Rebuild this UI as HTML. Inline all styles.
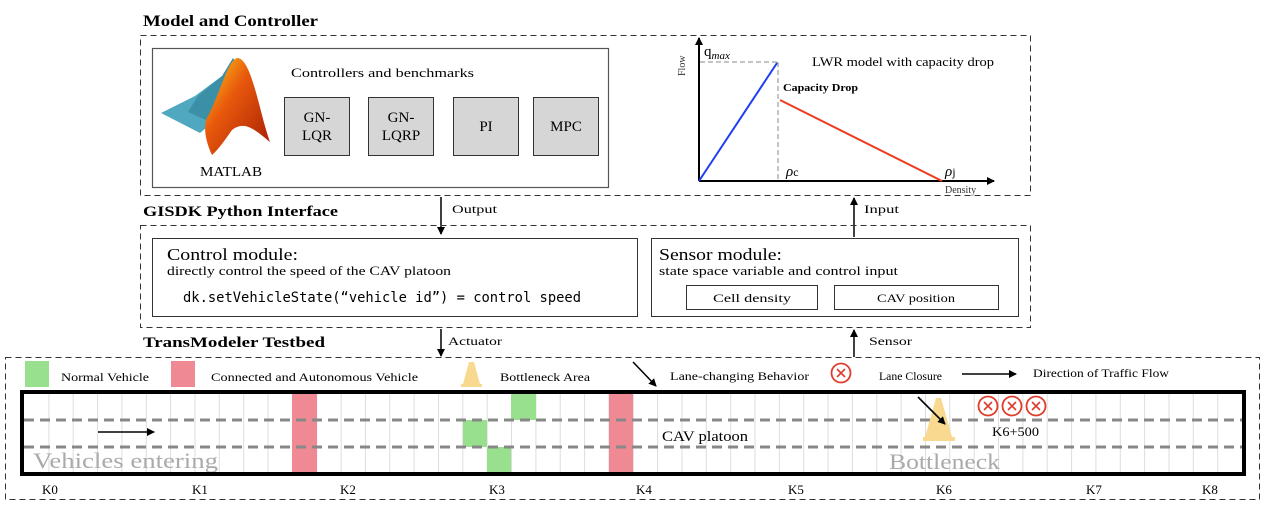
<!DOCTYPE html>
<html><head><meta charset="utf-8"><style>
html,body{margin:0;padding:0;background:#fff;}
svg{display:block;font-family:"Liberation Serif",serif;}
</style></head><body>
<svg width="1266" height="512" viewBox="0 0 1266 512" xmlns="http://www.w3.org/2000/svg">
<defs>
<marker id="ah" markerWidth="8" markerHeight="8" refX="7" refY="4" orient="auto" markerUnits="userSpaceOnUse"><path d="M0,0 L8,4 L0,8 z" fill="#000"/></marker>
<linearGradient id="mg" x1="0" y1="0" x2="1" y2="1"><stop offset="0" stop-color="#ffd21a"/><stop offset="0.4" stop-color="#e8590c"/><stop offset="1" stop-color="#a51c05"/></linearGradient>
</defs>

<text x="143" y="26" font-size="16" font-weight="bold" textLength="175" lengthAdjust="spacingAndGlyphs">Model and Controller</text>
<rect x="140.5" y="35.5" width="890" height="160" fill="none" stroke="#333" stroke-dasharray="6,4"/>
<rect x="152.5" y="48.5" width="456" height="139" fill="#fff" stroke="#555" stroke-width="1.2"/>
<polygon points="161,113 195,96 222,76 218,118 200,133" fill="#4fa8bf"/>
<polygon points="198,96 222,76 233,58 240,68 206,120 188,112" fill="#3b8fa6"/>
<path d="M206,120 C220,95 228,58 238,58 C252,60 260,115 270,142 C255,130 245,120 232,130 C225,140 218,150 212,155 C205,140 204,128 206,120 z" fill="url(#mg)"/>
<text x="200" y="176" font-size="14" textLength="62" lengthAdjust="spacingAndGlyphs">MATLAB</text>
<text x="291" y="77" font-size="13" textLength="183" lengthAdjust="spacingAndGlyphs">Controllers and benchmarks</text>
<g font-size="15" text-anchor="middle">
<rect x="284.5" y="97.5" width="65" height="58" fill="#d6d6d6" stroke="#333"/>
<text x="317" y="122">GN-</text><text x="317" y="140">LQR</text>
<rect x="368.5" y="97.5" width="65" height="58" fill="#d6d6d6" stroke="#333"/>
<text x="401" y="122">GN-</text><text x="401" y="140">LQRP</text>
<rect x="453.5" y="97.5" width="65" height="58" fill="#d6d6d6" stroke="#333"/>
<text x="486" y="131">PI</text>
<rect x="533.5" y="97.5" width="65" height="58" fill="#d6d6d6" stroke="#333"/>
<text x="566" y="131">MPC</text>
</g>
<line x1="699" y1="181" x2="699" y2="38" stroke="#000" stroke-width="2" marker-end="url(#ah)"/>
<line x1="699" y1="181" x2="994" y2="181" stroke="#000" stroke-width="2" marker-end="url(#ah)"/>
<line x1="700" y1="62" x2="778" y2="62" stroke="#888" stroke-dasharray="5,3"/>
<line x1="778" y1="62" x2="778" y2="181" stroke="#888" stroke-dasharray="5,3"/>
<line x1="699" y1="181" x2="777" y2="63" stroke="#1f3ff0" stroke-width="2"/>
<line x1="780" y1="100" x2="942" y2="181" stroke="#f03c1e" stroke-width="2"/>
<text transform="translate(685,76) rotate(-90)" font-size="10" fill="#333">Flow</text>
<text x="704" y="56" font-size="15">q<tspan font-size="11" font-style="italic" dy="3">max</tspan></text>
<text x="812" y="66" font-size="13" textLength="182" lengthAdjust="spacingAndGlyphs">LWR model with capacity drop</text>
<text x="783" y="91" font-size="10" font-weight="bold" textLength="75" lengthAdjust="spacingAndGlyphs">Capacity Drop</text>
<text x="786" y="176" font-size="15" font-style="italic">ρ<tspan font-size="12" font-style="normal">c</tspan></text>
<text x="945" y="176" font-size="15" font-style="italic">ρ<tspan font-size="12" font-style="normal">j</tspan></text>
<text x="945" y="193" font-size="10" fill="#333">Density</text>

<text x="143" y="216" font-size="15" font-weight="bold" textLength="195" lengthAdjust="spacingAndGlyphs">GISDK Python Interface</text>
<line x1="441" y1="197" x2="441" y2="234" stroke="#000" stroke-width="1.5" marker-end="url(#ah)"/>
<text x="452" y="213" font-size="12" textLength="45" lengthAdjust="spacingAndGlyphs">Output</text>
<line x1="854" y1="237" x2="854" y2="198" stroke="#000" stroke-width="1.5" marker-end="url(#ah)"/>
<text x="864" y="213" font-size="12" textLength="35" lengthAdjust="spacingAndGlyphs">Input</text>
<rect x="140.5" y="225.5" width="890" height="102" fill="none" stroke="#333" stroke-dasharray="6,4"/>
<rect x="152.5" y="238.5" width="485" height="78" fill="#fff" stroke="#333"/>
<text x="167" y="260" font-size="17" textLength="131" lengthAdjust="spacingAndGlyphs">Control module:</text>
<text x="167" y="275" font-size="13" textLength="284" lengthAdjust="spacingAndGlyphs">directly control the speed of the CAV platoon</text>
<text x="183" y="302" font-size="14" font-family="DejaVu Sans Mono,monospace" textLength="398" lengthAdjust="spacingAndGlyphs">dk.setVehicleState(“vehicle id”) = control speed</text>
<rect x="651.5" y="238.5" width="367" height="78" fill="#fff" stroke="#333"/>
<text x="659" y="260" font-size="17" textLength="123" lengthAdjust="spacingAndGlyphs">Sensor module:</text>
<text x="659" y="275" font-size="13" textLength="239" lengthAdjust="spacingAndGlyphs">state space variable and control input</text>
<rect x="686.5" y="285.5" width="131" height="24" fill="#fff" stroke="#333"/>
<text x="713" y="302" font-size="12" textLength="78" lengthAdjust="spacingAndGlyphs">Cell density</text>
<rect x="834.5" y="285.5" width="164" height="24" fill="#fff" stroke="#333"/>
<text x="877" y="302" font-size="12" textLength="78" lengthAdjust="spacingAndGlyphs">CAV position</text>

<text x="143" y="347" font-size="15" font-weight="bold" textLength="182" lengthAdjust="spacingAndGlyphs">TransModeler Testbed</text>
<line x1="441" y1="329" x2="441" y2="356" stroke="#000" stroke-width="1.5" marker-end="url(#ah)"/>
<text x="448" y="345" font-size="12" textLength="54" lengthAdjust="spacingAndGlyphs">Actuator</text>
<line x1="854" y1="357" x2="854" y2="330" stroke="#000" stroke-width="1.5" marker-end="url(#ah)"/>
<text x="869" y="345" font-size="12" textLength="43" lengthAdjust="spacingAndGlyphs">Sensor</text>
<rect x="5.5" y="357.5" width="1254" height="142" fill="none" stroke="#333" stroke-dasharray="6,4"/>

<rect x="25" y="361" width="24" height="26" fill="#98e08e"/>
<text x="61" y="381" font-size="12" textLength="88" lengthAdjust="spacingAndGlyphs">Normal Vehicle</text>
<rect x="171" y="361" width="24" height="26" fill="#ef8a94"/>
<text x="211" y="381" font-size="12" textLength="207" lengthAdjust="spacingAndGlyphs">Connected and Autonomous Vehicle</text>
<polygon points="469,362 474,362 480,384 463,384" fill="#f8d98f"/>
<rect x="461" y="384" width="21" height="3" fill="#f8d98f"/>
<text x="500" y="381" font-size="12" textLength="90" lengthAdjust="spacingAndGlyphs">Bottleneck Area</text>
<line x1="633" y1="362" x2="656" y2="386" stroke="#000" stroke-width="1.5" marker-end="url(#ah)"/>
<text x="670" y="380" font-size="12" textLength="139" lengthAdjust="spacingAndGlyphs">Lane-changing Behavior</text>
<circle cx="841" cy="373" r="9.5" fill="#fff" stroke="#e03c2c" stroke-width="1.8"/>
<path d="M837,369 L845,377 M845,369 L837,377" stroke="#e03c2c" stroke-width="1.6"/>
<text x="879" y="380" font-size="12" textLength="63" lengthAdjust="spacingAndGlyphs">Lane Closure</text>
<line x1="962" y1="374" x2="1016" y2="374" stroke="#000" stroke-width="1.5" marker-end="url(#ah)"/>
<text x="1033" y="377" font-size="12" textLength="136" lengthAdjust="spacingAndGlyphs">Direction of Traffic Flow</text>

<g stroke="#ddd" stroke-width="1">
<line x1="48.9" y1="393" x2="48.9" y2="473"/><line x1="73.2" y1="393" x2="73.2" y2="473"/><line x1="97.6" y1="393" x2="97.6" y2="473"/><line x1="121.9" y1="393" x2="121.9" y2="473"/><line x1="146.3" y1="393" x2="146.3" y2="473"/><line x1="170.6" y1="393" x2="170.6" y2="473"/><line x1="195" y1="393" x2="195" y2="473"/><line x1="219.3" y1="393" x2="219.3" y2="473"/><line x1="243.7" y1="393" x2="243.7" y2="473"/><line x1="268" y1="393" x2="268" y2="473"/><line x1="292.4" y1="393" x2="292.4" y2="473"/><line x1="316.7" y1="393" x2="316.7" y2="473"/><line x1="341.1" y1="393" x2="341.1" y2="473"/><line x1="365.4" y1="393" x2="365.4" y2="473"/><line x1="389.8" y1="393" x2="389.8" y2="473"/><line x1="414.1" y1="393" x2="414.1" y2="473"/><line x1="438.5" y1="393" x2="438.5" y2="473"/><line x1="462.8" y1="393" x2="462.8" y2="473"/><line x1="487.2" y1="393" x2="487.2" y2="473"/><line x1="511.5" y1="393" x2="511.5" y2="473"/><line x1="535.9" y1="393" x2="535.9" y2="473"/><line x1="560.2" y1="393" x2="560.2" y2="473"/><line x1="584.6" y1="393" x2="584.6" y2="473"/><line x1="608.9" y1="393" x2="608.9" y2="473"/><line x1="633.3" y1="393" x2="633.3" y2="473"/><line x1="657.6" y1="393" x2="657.6" y2="473"/><line x1="682" y1="393" x2="682" y2="473"/><line x1="706.3" y1="393" x2="706.3" y2="473"/><line x1="730.7" y1="393" x2="730.7" y2="473"/><line x1="755" y1="393" x2="755" y2="473"/><line x1="779.4" y1="393" x2="779.4" y2="473"/><line x1="803.7" y1="393" x2="803.7" y2="473"/><line x1="828.1" y1="393" x2="828.1" y2="473"/><line x1="852.4" y1="393" x2="852.4" y2="473"/><line x1="876.8" y1="393" x2="876.8" y2="473"/><line x1="901.1" y1="393" x2="901.1" y2="473"/><line x1="925.5" y1="393" x2="925.5" y2="473"/><line x1="949.8" y1="393" x2="949.8" y2="473"/><line x1="974.2" y1="393" x2="974.2" y2="473"/><line x1="998.5" y1="393" x2="998.5" y2="473"/><line x1="1022.9" y1="393" x2="1022.9" y2="473"/><line x1="1047.2" y1="393" x2="1047.2" y2="473"/><line x1="1071.6" y1="393" x2="1071.6" y2="473"/><line x1="1095.9" y1="393" x2="1095.9" y2="473"/><line x1="1120.3" y1="393" x2="1120.3" y2="473"/><line x1="1144.6" y1="393" x2="1144.6" y2="473"/><line x1="1169" y1="393" x2="1169" y2="473"/><line x1="1193.3" y1="393" x2="1193.3" y2="473"/><line x1="1217.7" y1="393" x2="1217.7" y2="473"/>
</g>
<rect x="292" y="393" width="25" height="81" fill="#ef8a94"/>
<rect x="609" y="393" width="24" height="81" fill="#ef8a94"/>
<rect x="511" y="393" width="25" height="27" fill="#98e08e"/>
<rect x="463" y="420" width="24" height="27" fill="#98e08e"/>
<rect x="487" y="447" width="24" height="27" fill="#98e08e"/>
<line x1="24" y1="420" x2="1244" y2="420" stroke="#888" stroke-width="3" stroke-dasharray="10,6"/>
<line x1="24" y1="447" x2="1244" y2="447" stroke="#888" stroke-width="3" stroke-dasharray="10,6"/>
<polygon points="936,398 941,398 952,437 925,437" fill="#f8d98f"/>
<rect x="923" y="437" width="32" height="4" fill="#f8d98f"/>
<line x1="918" y1="397" x2="945" y2="424" stroke="#000" stroke-width="1.6" marker-end="url(#ah)"/>
<g stroke="#e03c2c" stroke-width="1.8" fill="#fff">
<circle cx="988" cy="406" r="9.5"/><circle cx="1012" cy="406" r="9.5"/><circle cx="1036" cy="406" r="9.5"/>
<path d="M984,402 L992,410 M992,402 L984,410 M1008,402 L1016,410 M1016,402 L1008,410 M1032,402 L1040,410 M1040,402 L1032,410" stroke-width="1.6"/>
</g>
<line x1="98" y1="432" x2="154" y2="432" stroke="#000" stroke-width="1.5" marker-end="url(#ah)"/>
<text x="662" y="441" font-size="15" textLength="86" lengthAdjust="spacingAndGlyphs">CAV platoon</text>
<text x="992" y="436" font-size="13" textLength="47" lengthAdjust="spacingAndGlyphs">K6+500</text>
<text x="33" y="468" font-size="22" fill="#aaa" textLength="185" lengthAdjust="spacingAndGlyphs">Vehicles entering</text>
<text x="889" y="469" font-size="22" fill="#aaa" textLength="111" lengthAdjust="spacingAndGlyphs">Bottleneck</text>
<rect x="22" y="392" width="1222" height="82" fill="none" stroke="#000" stroke-width="4"/>
<g font-size="13">
<text x="42" y="494">K0</text><text x="192" y="494">K1</text><text x="340" y="494">K2</text><text x="489" y="494">K3</text><text x="636" y="494">K4</text><text x="788" y="494">K5</text><text x="936" y="494">K6</text><text x="1086" y="494">K7</text><text x="1202" y="494">K8</text>
</g>
</svg>
</body></html>
